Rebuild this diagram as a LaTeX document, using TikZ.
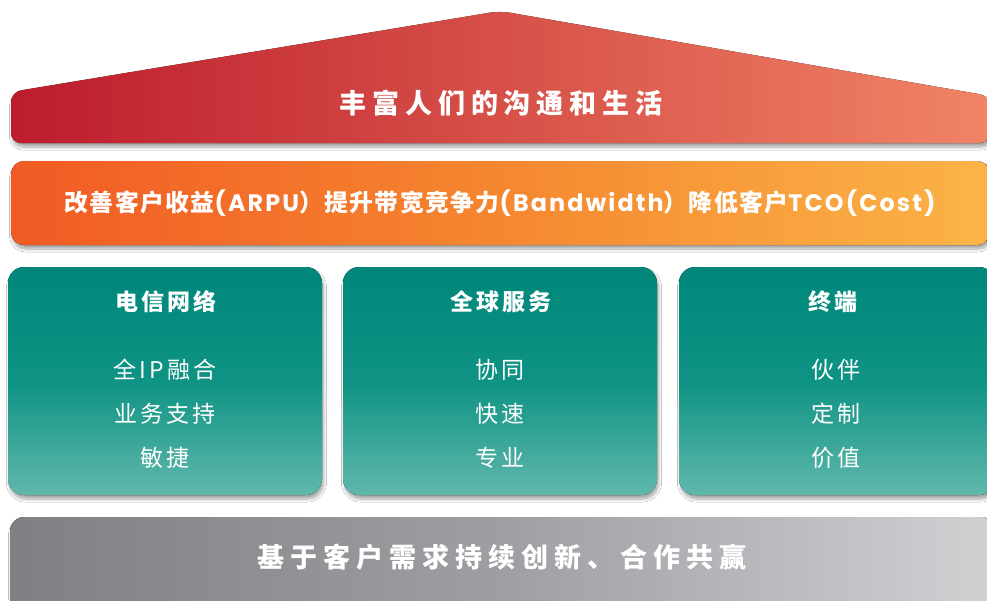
\documentclass[tikz,border=0pt]{standalone}
\usepackage{fontspec}
\setmainfont{Noto Sans CJK SC}
\newfontfamily\cjk{Noto Sans CJK SC}
\newfontfamily\lat{Poppins}
\usetikzlibrary{shadows.blur}
\definecolor{roofL}{RGB}{189,28,45}
\definecolor{roofM}{RGB}{214,80,72}
\definecolor{roofR}{RGB}{241,132,102}
\definecolor{bandL}{RGB}{241,90,36}
\definecolor{bandM}{RGB}{245,135,48}
\definecolor{bandR}{RGB}{251,180,71}
\definecolor{tealT}{RGB}{0,135,122}
\definecolor{tealM}{RGB}{14,147,132}
\definecolor{tealB}{RGB}{96,184,171}
\definecolor{grayL}{RGB}{128,128,132}
\definecolor{grayM}{RGB}{158,159,163}
\definecolor{grayR}{RGB}{208,209,211}
\newcommand{\lt}[1]{{\lat\addfontfeature{LetterSpace=9}#1}}
\tikzset{
  shade/.style={blur shadow={shadow xshift=1.5pt, shadow yshift=-4pt, shadow blur steps=8, shadow opacity=35, shadow blur radius=3pt}},
  txt/.style={text=white, inner sep=0pt},
  bigb/.style={txt, font=\cjk\bfseries\fontsize{27}{30}\selectfont\addfontfeature{LetterSpace=22}},
  bandt/.style={txt, font=\cjk\bfseries\fontsize{23.8}{26}\selectfont\addfontfeature{LetterSpace=6}},
  colt/.style={txt, font=\cjk\bfseries\fontsize{23}{26}\selectfont\addfontfeature{LetterSpace=14}},
  item/.style={txt, font=\cjk\fontsize{23}{26}\selectfont\addfontfeature{LetterSpace=14}},
  colbox/.style={shade, top color=tealT, bottom color=tealB, middle color=tealM, rounded corners=16pt},
}
\begin{document}
\begin{tikzpicture}[x=1pt,y=-1pt]
\useasboundingbox[fill=white] (0,0) rectangle (987,600);
% roof
\fill[shade, left color=roofL, right color=roofR, middle color=roofM, rounded corners=10pt]
  (11,143) -- (11,92) -- (500,11) -- (990,96) -- (990,143) -- cycle;
\node[bigb] (roof) at (501,103) {丰富人们的沟通和生活};
% orange band
\fill[shade, left color=bandL, right color=bandR, middle color=bandM, rounded corners=13pt]
  (11,161) rectangle (990,245);
\node[bandt] (band) at (500,203) {改善客户收益\lt{(ARPU}）提升带宽竞争力\lt{(Bandwidth}）降低客户\lt{TCO(Cost)}};
% columns
\fill[colbox] (8,267) rectangle (322,495);
\fill[colbox] (343,267) rectangle (657,495);
\fill[colbox] (679,267) rectangle (995,495);
\node[colt] (t1) at (166,302) {电信网络};
\node[item] (a1) at (165,370) {全IP融合};
\node[item] (b1) at (165,414) {业务支持};
\node[item] (c1) at (165,458) {敏捷};
\node[colt] (t2) at (501,302) {全球服务};
\node[item] (a2) at (500,370) {协同};
\node[item] (b2) at (500,414) {快速};
\node[item] (c2) at (500,458) {专业};
\node[colt] (t3) at (833,302) {终端};
\node[item] (a3) at (836,370) {伙伴};
\node[item] (b3) at (836,414) {定制};
\node[item] (c3) at (836,458) {价值};
% bottom bar
\fill[shade, left color=grayL, right color=grayR, middle color=grayM, rounded corners=14pt]
  (10,517) rectangle (995,620);
\node[bigb] (base) at (502,557) {基于客户需求持续创新、合作共赢};
\end{tikzpicture}
\end{document}
